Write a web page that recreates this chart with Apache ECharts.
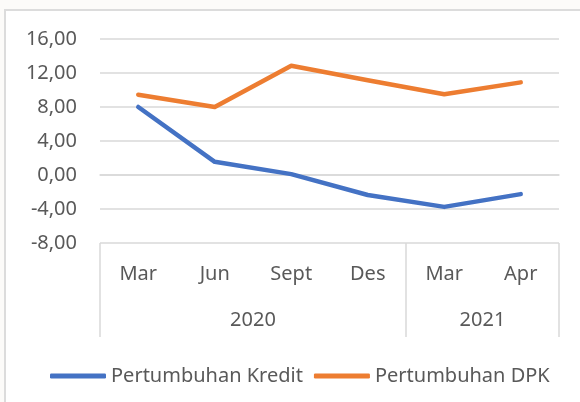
<!DOCTYPE html>
<html>
<head>
<meta charset="utf-8">
<script src="https://cdn.jsdelivr.net/npm/echarts@6/dist/echarts.min.js"></script>
<style>
  html, body { margin: 0; padding: 0; background: #fcfbf9; }
  #frame {
    position: absolute; left: 4px; top: 9px; width: 600px; height: 420px;
    background: #ffffff; border-left: 2px solid #dcdcdc; border-top: 2px solid #dcdcdc;
  }
  #chart { position: absolute; left: 0; top: 0; width: 580px; height: 402px; }
</style>
</head>
<body>
<div id="frame"></div>
<div id="chart"></div>
<script>
// data
const months = ['Mar', 'Jun', 'Sept', 'Des', 'Mar', 'Apr']
const years = ['2020', '2021']
const yearSpans = [4, 2]
const kredit = [8.0, 1.55, 0.1, -2.35, -3.75, -2.25]
const dpk = [9.45, 8.0, 12.85, 11.15, 9.5, 10.9]

const font = '"Noto Sans", sans-serif'
const textColor = '#595959'
const gridColor = '#d9d9d9'

// year boundaries and label centers, in category units
const bounds = [0]
const centers = []
yearSpans.forEach((s, i) => {
  centers.push(bounds[i] + s / 2)
  bounds.push(bounds[i] + s)
})

const chart = echarts.init(document.getElementById('chart'), null, { renderer: 'canvas' })

const option = {
  animation: false,
  backgroundColor: 'transparent',
  textStyle: { fontFamily: font },
  grid: { left: 100, right: 21, top: 39, bottom: 159 },
  legend: {
    left: 45,
    top: 361,
    icon: 'roundRect',
    itemWidth: 56,
    itemHeight: 5,
    itemGap: 11,
    textStyle: { fontFamily: font, fontSize: 20, color: textColor },
    data: ['Pertumbuhan Kredit', 'Pertumbuhan DPK'],
  },
  xAxis: [
    {
      type: 'category',
      data: months,
      position: 'bottom',
      axisLine: { show: true, lineStyle: { color: gridColor, width: 1.5 } },
      axisTick: { show: false },
      axisLabel: { margin: 21, fontFamily: font, fontSize: 20, color: textColor },
    },
    {
      type: 'value',
      min: 0,
      max: months.length,
      position: 'bottom',
      offset: 94,
      axisLine: { show: false },
      splitLine: { show: false },
      axisTick: {
        show: true,
        inside: true,
        length: 94,
        customValues: bounds,
        lineStyle: { color: gridColor, width: 1.5 },
      },
      axisLabel: {
        inside: true,
        margin: 7,
        customValues: centers,
        formatter: (v) => years[centers.indexOf(v)],
        fontFamily: font,
        fontSize: 20,
        color: textColor,
      },
    },
  ],
  yAxis: {
    type: 'value',
    min: -8,
    max: 16,
    interval: 4,
    axisLine: { show: false },
    axisTick: { show: false },
    splitLine: { lineStyle: { color: gridColor, width: 1.5 } },
    axisLabel: {
      margin: 23,
      fontFamily: font,
      fontSize: 20,
      color: textColor,
      formatter: (v) => v.toFixed(2).replace('.', ','),
    },
  },
  series: [
    {
      name: 'Pertumbuhan Kredit',
      type: 'line',
      data: kredit,
      showSymbol: false,
      color: '#4472c4',
      lineStyle: { width: 4.5, cap: 'round', join: 'round' },
    },
    {
      name: 'Pertumbuhan DPK',
      type: 'line',
      data: dpk,
      showSymbol: false,
      color: '#ed7d31',
      lineStyle: { width: 4.5, cap: 'round', join: 'round' },
    },
  ],
}

chart.setOption(option)
</script>
</body>
</html>
